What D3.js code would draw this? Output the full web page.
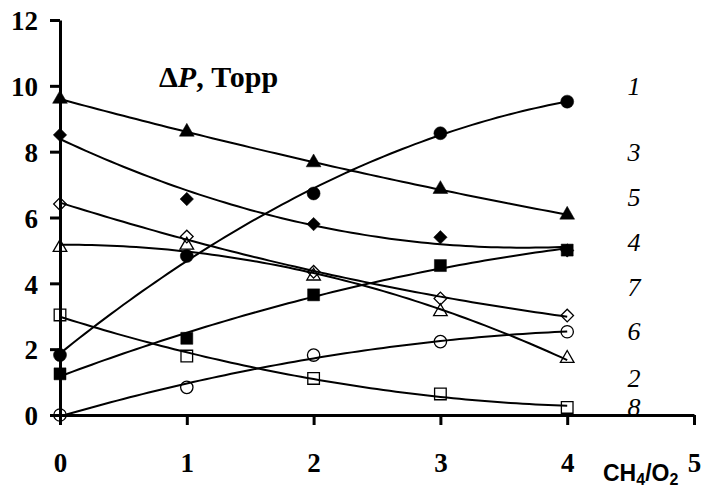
<!DOCTYPE html>
<html>
<head>
<meta charset="utf-8">
<script src="https://cdn.jsdelivr.net/npm/d3@7"></script>
<style>
  body { margin: 0; background: #fff; }
  svg { display: block; }
  text { font-family: "Liberation Serif", "Times New Roman", serif; fill: #000; }
</style>
</head>
<body>
<div id="chart"></div>
<script>
// CH4/O2 ratio (x) and pressure drop per curve (y, Torr)
var ratio = [0, 1, 2, 3, 4];
var circleFilled = [1.82, 4.83, 6.73, 8.56, 9.52];
var triangleFilled = [9.6, 8.6, 7.67, 6.86, 6.08];
var diamondFilled = [8.51, 6.56, 5.8, 5.4, 5.0];
var squareFilled = [1.25, 2.33, 3.65, 4.54, 5.01];
var diamondOpen = [6.41, 5.42, 4.35, 3.54, 3.02];
var circleOpen = [0, 0.84, 1.82, 2.23, 2.53];
var triangleOpen = [5.09, 5.16, 4.22, 3.14, 1.72];
var squareOpen = [3.04, 1.79, 1.11, 0.64, 0.23];

var xTicks = [0, 1, 2, 3, 4, 5];
var yTicks = [0, 2, 4, 6, 8, 10, 12];

// curve numbers shown at the right side, with the value they sit at
var curveLabels = ["1", "3", "5", "4", "7", "6", "2", "8"];
var curveLabelY = [10.0, 8.0, 6.62, 5.26, 3.9, 2.55, 1.14, 0.24];

var width = 703, height = 490;

var svg = d3.select("#chart").append("svg")
    .attr("width", width)
    .attr("height", height);

var x = d3.scaleLinear().domain([0, 5]).range([60, 694]);
var y = d3.scaleLinear().domain([0, 12]).range([415, 20]);

var series = [
    { values: circleFilled, shape: d3.symbolCircle, size: 133, filled: true },
    { values: triangleFilled, shape: d3.symbolTriangle, size: 95, filled: true },
    { values: diamondFilled, shape: d3.symbolSquare, size: 90, filled: true, rotate: 45 },
    { values: squareFilled, shape: d3.symbolSquare, size: 144, filled: true },
    { values: diamondOpen, shape: d3.symbolSquare, size: 80, filled: false, rotate: 45 },
    { values: circleOpen, shape: d3.symbolCircle, size: 120, filled: false },
    { values: triangleOpen, shape: d3.symbolTriangle, size: 80, filled: false },
    { values: squareOpen, shape: d3.symbolSquare, size: 135, filled: false }
];

// quadratic least squares trend (as the spreadsheet trendline)
function quadFit(xs, ys) {
    var n = xs.length, s = [0, 0, 0, 0, 0], t = [0, 0, 0];
    for (var i = 0; i < n; i++) {
        for (var k = 0; k < 5; k++) s[k] += Math.pow(xs[i], k);
        for (var k2 = 0; k2 < 3; k2++) t[k2] += ys[i] * Math.pow(xs[i], k2);
    }
    var m = [[s[0], s[1], s[2], t[0]], [s[1], s[2], s[3], t[1]], [s[2], s[3], s[4], t[2]]];
    for (var c = 0; c < 3; c++) {
        for (var r = c + 1; r < 3; r++) {
            var f = m[r][c] / m[c][c];
            for (var j = c; j < 4; j++) m[r][j] -= f * m[c][j];
        }
    }
    var coef = [0, 0, 0];
    for (var r2 = 2; r2 >= 0; r2--) {
        var v = m[r2][3];
        for (var j2 = r2 + 1; j2 < 3; j2++) v -= m[r2][j2] * coef[j2];
        coef[r2] = v / m[r2][r2];
    }
    return function (xv) { return coef[0] + coef[1] * xv + coef[2] * xv * xv; };
}

// markers
series.forEach(function (s) {
    svg.append("g").selectAll("path")
        .data(s.values)
        .enter()
        .append("path")
        .attr("d", d3.symbol().type(s.shape).size(s.size))
        .attr("transform", function (d, i) {
            return "translate(" + x(ratio[i]) + "," + y(d) + ")" + (s.rotate ? " rotate(" + s.rotate + ")" : "");
        })
        .attr("fill", s.filled ? "#000" : "none")
        .attr("stroke", "#000")
        .attr("stroke-width", s.filled ? 0.5 : 1.3);
});

// trend lines
var line = d3.line()
    .x(function (d) { return x(d[0]); })
    .y(function (d) { return y(d[1]); });

var steps = d3.range(0, 4.0001, 0.05);
series.forEach(function (s) {
    var fit = quadFit(ratio, s.values);
    svg.append("path")
        .attr("d", line(steps.map(function (t) { return [t, fit(t)]; })))
        .attr("fill", "none")
        .attr("stroke", "#000")
        .attr("stroke-width", 2);
});

// axes
var xAxis = svg.append("g")
    .attr("transform", "translate(0," + y(0) + ")")
    .call(d3.axisBottom(x).tickValues(xTicks).tickFormat(d3.format("d"))
        .tickSize(10).tickSizeOuter(0).tickPadding(28));
var yAxis = svg.append("g")
    .attr("transform", "translate(" + x(0) + ",0)")
    .call(d3.axisLeft(y).tickValues(yTicks).tickFormat(d3.format("d"))
        .tickSize(10).tickSizeOuter(0).tickPadding(12));

[xAxis, yAxis].forEach(function (a) {
    a.attr("font-family", null);
    a.select(".domain").attr("stroke", "#000").attr("stroke-width", 3);
    a.selectAll(".tick line").attr("stroke", "#000").attr("stroke-width", 3);
    a.selectAll(".tick text")
        .style("font-family", "'Liberation Serif', 'Times New Roman', serif")
        .style("font-size", "27px")
        .style("font-weight", "bold")
        .attr("fill", "#000");
});
yAxis.selectAll(".tick text").attr("dy", "0.36em");

// axis title
var title = svg.append("text")
    .attr("x", 159)
    .attr("y", 87)
    .style("font-size", "30px")
    .style("font-weight", "bold");
title.append("tspan").text("\u0394");
title.append("tspan").style("font-style", "italic").text("P");
title.append("tspan").text(", \u0422\u043e\u0440\u0440");

var xTitle = svg.append("text")
    .attr("x", 603)
    .attr("y", 481)
    .style("font-family", "'Liberation Sans', Arial, sans-serif")
    .style("font-size", "23px")
    .style("font-weight", "bold");
xTitle.append("tspan").text("CH");
xTitle.append("tspan").attr("dy", 4).style("font-size", "16px").text("4");
xTitle.append("tspan").attr("dy", -4).text("/O");
xTitle.append("tspan").attr("dy", 4).style("font-size", "16px").text("2");

// curve numbers
svg.append("g").selectAll("text")
    .data(curveLabels)
    .enter()
    .append("text")
    .attr("x", 634)
    .attr("y", function (d, i) { return y(curveLabelY[i]); })
    .attr("dy", "0.35em")
    .attr("text-anchor", "middle")
    .style("font-size", "26px")
    .style("font-style", "italic")
    .text(function (d) { return d; });
</script>
</body>
</html>
